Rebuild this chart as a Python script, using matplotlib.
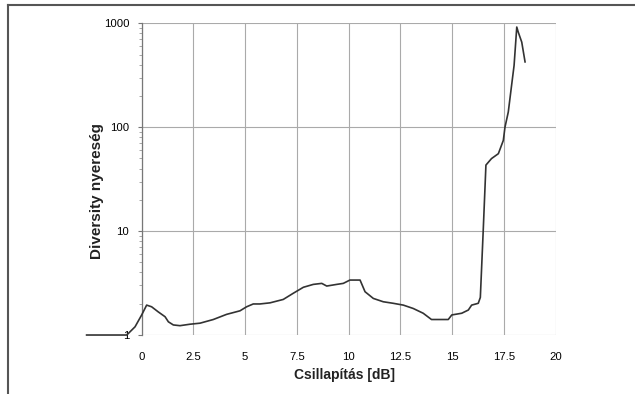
import matplotlib
matplotlib.use("Agg")
import matplotlib.pyplot as plt
from matplotlib.lines import Line2D
import numpy as np

plt.rcParams['font.family'] = ['Liberation Sans', 'DejaVu Sans']

# attenuation [dB] vs. diversity gain, traced measurement curve
atten = [-2.66, -0.72, -0.32, 0.0, 0.24, 0.48, 0.80, 1.13, 1.29, 1.53, 1.85,
         2.33, 2.82, 3.46, 4.10, 4.75, 5.07, 5.39, 5.71, 6.20, 6.84, 7.32,
         7.81, 8.29, 8.70, 8.94, 9.42, 9.74, 10.06, 10.55, 10.79, 11.19,
         11.67, 12.15, 12.64, 13.12, 13.60, 14.00, 14.41, 14.81, 14.98,
         15.46, 15.78, 15.94, 16.26, 16.36, 16.50, 16.63, 16.90,
         17.23, 17.47, 17.55, 17.71, 17.87, 17.99, 18.12, 18.19, 18.36, 18.52]
gain = [1.0, 1.0, 1.20, 1.56, 1.94, 1.87, 1.67, 1.50, 1.34, 1.25, 1.23,
        1.27, 1.30, 1.41, 1.58, 1.71, 1.87, 1.99, 1.99, 2.04, 2.20, 2.52,
        2.88, 3.07, 3.14, 2.96, 3.07, 3.14, 3.38, 3.38, 2.61, 2.25,
        2.09, 2.02, 1.94, 1.80, 1.62, 1.41, 1.41, 1.41, 1.56,
        1.62, 1.74, 1.94, 2.02, 2.30, 10.2, 43.2, 49.9,
        55.6, 74.6, 100.0, 140.0, 253.0, 393.0, 920.0, 824.0, 659.0, 425.0]

xticks = [0, 2.5, 5, 7.5, 10, 12.5, 15, 17.5, 20]
xticklabels = ['0', '2.5', '5', '7.5', '10', '12.5', '15', '17.5', '20']
yticks = [1, 10, 100, 1000]
yticklabels = ['1', '10', '100', '1000']

W, H = 635, 394
fig = plt.figure(figsize=(W / 100, H / 100), dpi=100)
ax = fig.add_axes([0.2231, 0.1497, 0.652, 0.7912])

ax.set_yscale('log')
ax.set_xlim(0, 20)
ax.set_ylim(1, 1000)

ax.plot(atten, gain, color='#333333', linewidth=1.2, clip_on=False, zorder=3)

ax.set_xticks(xticks)
ax.set_xticklabels(xticklabels, fontsize=8.2)
ax.set_yticks(yticks)
ax.set_yticklabels(yticklabels, fontsize=8.2)
ax.tick_params(axis='x', length=0, pad=12)
ax.tick_params(axis='y', which='major', length=3, color='#777777', pad=6)
ax.tick_params(axis='y', which='minor', length=2, color='#999999')
ax.xaxis.set_minor_locator(matplotlib.ticker.NullLocator())

ax.grid(True, which='major', color='#aaaaaa', linewidth=0.8)
for side in ['top', 'right', 'bottom']:
    ax.spines[side].set_visible(False)
ax.spines['left'].set_color('#777777')
ax.spines['left'].set_linewidth(0.9)

# axis titles placed in figure pixels
fig.text(344 / W, 1 - 375 / H, 'Csillapítás [dB]', fontsize=10,
         fontweight='bold', ha='center', va='center', color='#222222')
fig.text(97 / W, 1 - 191 / H, 'Diversity nyereség', fontsize=11,
         fontweight='bold', rotation=90, ha='center', va='center',
         color='#222222')

# frame around the chart
fx = 8 / W
fy = 1 - 5 / H
fig.add_artist(Line2D([fx, 1], [fy, fy], color='#555555', linewidth=1.5))
fig.add_artist(Line2D([fx, fx], [0, fy], color='#555555', linewidth=1.5))

fig.savefig('out.png', dpi=100)
